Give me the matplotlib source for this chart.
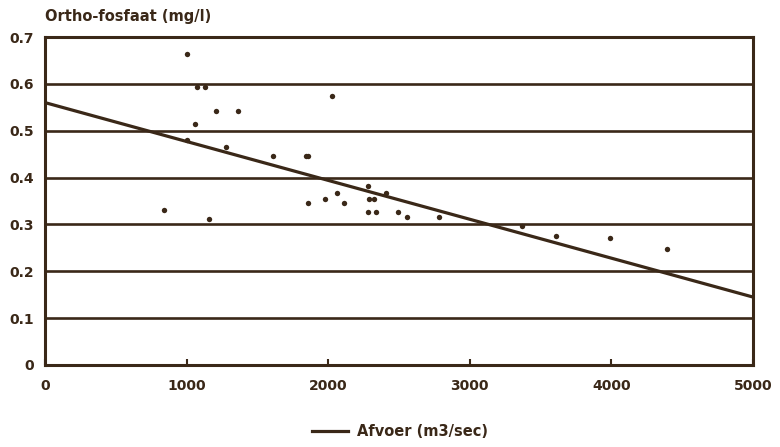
import matplotlib
matplotlib.use("Agg")
import matplotlib.pyplot as plt
import numpy as np
from matplotlib.lines import Line2D

# Data
afvoer = [1000, 1070, 1130, 1210, 1360, 1060, 1000, 1280, 1610, 1840, 1860,
          2030, 1160, 840, 1860, 1980, 2060, 2110, 2280, 2290, 2320, 2280,
          2340, 2410, 2490, 2560, 2780, 3370, 3610, 3990, 4390]
fosfaat = [0.664, 0.594, 0.594, 0.543, 0.543, 0.514, 0.48, 0.465, 0.446, 0.446, 0.446,
           0.575, 0.312, 0.331, 0.346, 0.355, 0.367, 0.346, 0.382, 0.355, 0.355, 0.327,
           0.327, 0.367, 0.327, 0.316, 0.316, 0.297, 0.276, 0.27, 0.248]
fit_x = [0, 5000]
fit_y = [0.56, 0.145]
x_ticks = [0, 1000, 2000, 3000, 4000, 5000]
y_ticks = [0, 0.1, 0.2, 0.3, 0.4, 0.5, 0.6, 0.7]
y_tick_labels = ["0", "0.1", "0.2", "0.3", "0.4", "0.5", "0.6", "0.7"]

ink = "#3a2818"
plt.rcParams['font.family'] = ['DejaVu Sans']

fig = plt.figure(figsize=(7.8, 4.47), dpi=100)
fig.patch.set_facecolor("white")
ax = fig.add_axes([45/780, 1-365/447, (753-45)/780, (365-37)/447])

for y in y_ticks[1:-1]:
    ax.axhline(y, color=ink, lw=1.9, zorder=1)

ax.plot(fit_x, fit_y, color=ink, lw=2.3, zorder=3)
ax.scatter(afvoer, fosfaat, s=15, color=ink, zorder=4, linewidths=0)

ax.set_xlim(0, 5000)
ax.set_ylim(0, 0.7)
ax.set_xticks(x_ticks)
ax.set_xticklabels([str(v) for v in x_ticks], fontweight="bold", fontsize=10, color=ink)
ax.set_yticks(y_ticks)
ax.set_yticklabels(y_tick_labels, fontweight="bold", fontsize=10, color=ink)
ax.tick_params(axis="x", direction="in", length=4, width=1.5, color=ink, pad=10)
ax.tick_params(axis="y", length=0, pad=8)
for s in ax.spines.values():
    s.set_color(ink)
    s.set_linewidth(2.2)

fig.text(45/780, 1-17/447, "Ortho-fosfaat (mg/l)", fontweight="bold", fontsize=10.5,
         color=ink, ha="left", va="center")

handle = Line2D([0], [0], color=ink, lw=2.3)
fig.legend([handle], ["Afvoer (m3/sec)"], loc="center", bbox_to_anchor=(400/780, 1-432/447),
           frameon=False, prop={"weight": "bold", "size": 10.5}, labelcolor=ink,
           handlelength=2.5, handletextpad=0.6)

fig.savefig("out.png", dpi=100)
